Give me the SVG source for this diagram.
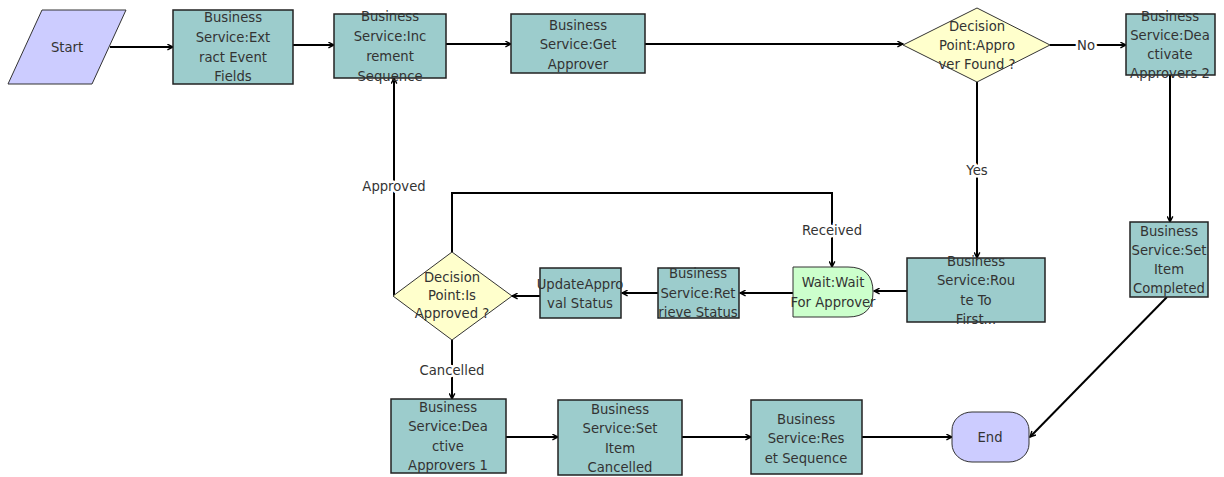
<svg xmlns="http://www.w3.org/2000/svg" width="1224" height="477" viewBox="0 0 1224 477">
<defs>
<marker id="arr" viewBox="0 0 10 10" refX="9" refY="5" markerWidth="7" markerHeight="7" orient="auto" markerUnits="userSpaceOnUse">
<path d="M1,1 L9,5 L1,9" fill="none" stroke="#000" stroke-width="2"/>
</marker>
<style>
.box{fill:#9ccccc;stroke:#222;stroke-width:1.5}
.dec{fill:#ffffcc;stroke:#333;stroke-width:1}
.term{fill:#ccccff;stroke:#333;stroke-width:1}
.wait{fill:#ccffcc;stroke:#333;stroke-width:1}
.t{font-family:"DejaVu Sans",Verdana,sans-serif;font-size:13.2px;fill:#333;text-anchor:middle;dominant-baseline:central}
.lbl{font-family:"DejaVu Sans",Verdana,sans-serif;font-size:13.2px;fill:#333;text-anchor:middle;dominant-baseline:central;paint-order:stroke;stroke:#fff;stroke-width:5px;stroke-linejoin:round}
.c{fill:none;stroke:#000;stroke-width:2;marker-end:url(#arr)}
</style>
</defs>
<rect width="1224" height="477" fill="#fff"/>
<g id="connectors">
<line class="c" x1="110" y1="47" x2="173" y2="47"/>
<line class="c" x1="293" y1="45" x2="334" y2="45"/>
<line class="c" x1="446" y1="44" x2="511" y2="44"/>
<line class="c" x1="645" y1="44" x2="903" y2="44"/>
<line class="c" x1="1050" y1="45" x2="1126" y2="45"/>
<line class="c" x1="1170" y1="75" x2="1170" y2="222"/>
<line class="c" x1="1167" y1="297" x2="1030" y2="437"/>
<line class="c" x1="977" y1="82" x2="977" y2="258"/>
<line class="c" x1="907" y1="291" x2="874" y2="291"/>
<line class="c" x1="793" y1="293" x2="740" y2="293"/>
<line class="c" x1="658" y1="293" x2="622" y2="293"/>
<line class="c" x1="540" y1="296" x2="512" y2="296"/>
<polyline class="c" points="452,252 452,193 832,193 832,267"/>
<polyline class="c" points="394,296 394,78"/>
<line class="c" x1="452" y1="340" x2="452" y2="399"/>
<line class="c" x1="506" y1="437" x2="558" y2="437"/>
<line class="c" x1="682" y1="437" x2="751" y2="437"/>
<line class="c" x1="862" y1="437" x2="952" y2="437"/>
<text class="lbl" x="1086" y="45">No</text>
<text class="lbl" x="977" y="170">Yes</text>
<text class="lbl" x="832" y="230">Received</text>
<text class="lbl" x="394" y="186">Approved</text>
<text class="lbl" x="452" y="370">Cancelled</text>
</g>
<g id="start">
<polygon class="term" points="42,10 126,10 92,84 8,84"/>
<text class="t" x="67" y="47">Start</text>
</g>
<g id="extract">
<rect class="box" x="173" y="10" width="120" height="74"/>
<text class="t" x="233" y="17">Business</text>
<text class="t" x="233" y="37">Service:Ext</text>
<text class="t" x="233" y="57">ract Event</text>
<text class="t" x="233" y="76">Fields</text>
</g>
<g id="increment">
<rect class="box" x="334" y="14" width="112" height="64"/>
<text class="t" x="390" y="16">Business</text>
<text class="t" x="390" y="36">Service:Inc</text>
<text class="t" x="390" y="56">rement</text>
<text class="t" x="390" y="76">Sequence</text>
</g>
<g id="getapprover">
<rect class="box" x="511" y="14" width="134" height="59"/>
<text class="t" x="578" y="25">Business</text>
<text class="t" x="578" y="44">Service:Get</text>
<text class="t" x="578" y="64">Approver</text>
</g>
<g id="approverfound">
<polygon class="dec" points="977,8 1050,45 977,82 903,45"/>
<text class="t" x="977" y="26">Decision</text>
<text class="t" x="977" y="45">Point:Appro</text>
<text class="t" x="977" y="64">ver Found ?</text>
</g>
<g id="deactivate2">
<rect class="box" x="1126" y="14" width="89" height="61"/>
<text class="t" x="1170" y="16">Business</text>
<text class="t" x="1170" y="35">Service:Dea</text>
<text class="t" x="1170" y="54">ctivate</text>
<text class="t" x="1170" y="73">Approvers 2</text>
</g>
<g id="setcompleted">
<rect class="box" x="1130" y="222" width="78" height="75"/>
<text class="t" x="1169" y="231">Business</text>
<text class="t" x="1169" y="250">Service:Set</text>
<text class="t" x="1169" y="269">Item</text>
<text class="t" x="1169" y="288">Completed</text>
</g>
<g id="route">
<rect class="box" x="907" y="258" width="138" height="64"/>
<text class="t" x="976" y="261">Business</text>
<text class="t" x="976" y="280">Service:Rou</text>
<text class="t" x="976" y="300">te To</text>
<text class="t" x="976" y="319">First...</text>
</g>
<g id="wait">
<path class="wait" d="M793,267 H848 Q873,267 873,292 Q873,317 848,317 H793 Z"/>
<text class="t" x="833" y="282">Wait:Wait</text>
<text class="t" x="833" y="302">For Approver</text>
</g>
<g id="retrieve">
<rect class="box" x="658" y="268" width="81" height="50"/>
<text class="t" x="698" y="273">Business</text>
<text class="t" x="698" y="293">Service:Ret</text>
<text class="t" x="698" y="312">rieve Status</text>
</g>
<g id="update">
<rect class="box" x="540" y="268" width="81" height="50"/>
<text class="t" x="580" y="284">UpdateAppro</text>
<text class="t" x="580" y="303">val Status</text>
</g>
<g id="isapproved">
<polygon class="dec" points="452,252 512,296 452,340 393,296"/>
<text class="t" x="452" y="277">Decision</text>
<text class="t" x="452" y="295">Point:Is</text>
<text class="t" x="452" y="313">Approved ?</text>
</g>
<g id="deactivate1">
<rect class="box" x="391" y="399" width="115" height="74"/>
<text class="t" x="448" y="407">Business</text>
<text class="t" x="448" y="426">Service:Dea</text>
<text class="t" x="448" y="446">ctive</text>
<text class="t" x="448" y="465">Approvers 1</text>
</g>
<g id="setcancelled">
<rect class="box" x="558" y="400" width="124" height="75"/>
<text class="t" x="620" y="409">Business</text>
<text class="t" x="620" y="428">Service:Set</text>
<text class="t" x="620" y="448">Item</text>
<text class="t" x="620" y="467">Cancelled</text>
</g>
<g id="reset">
<rect class="box" x="751" y="400" width="111" height="74"/>
<text class="t" x="806" y="419">Business</text>
<text class="t" x="806" y="438">Service:Res</text>
<text class="t" x="806" y="458">et Sequence</text>
</g>
<g id="end">
<rect class="term" x="952" y="412" width="77" height="50" rx="20" ry="18"/>
<text class="t" x="990" y="437">End</text>
</g>
</svg>
